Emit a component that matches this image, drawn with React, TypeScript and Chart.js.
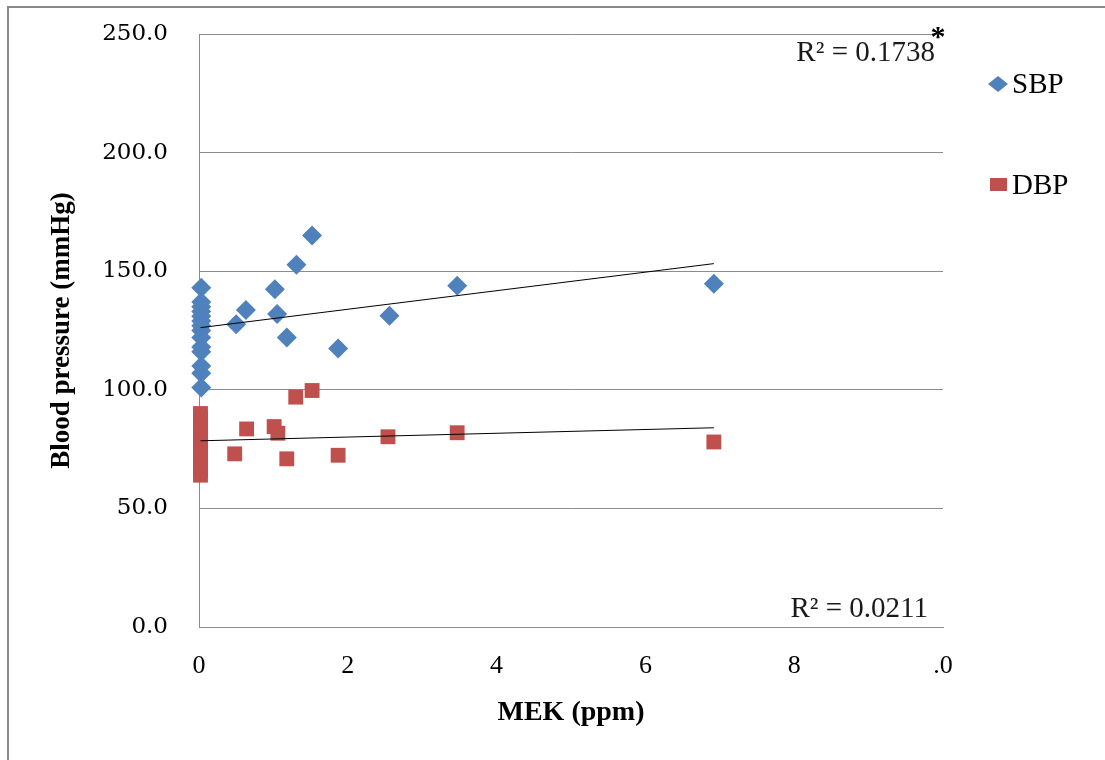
import React, { useEffect, useRef } from "react";
import { Chart, registerables } from "chart.js";

Chart.register(...registerables);

// SBP readings (mmHg) against MEK exposure (ppm)
const sbpMek = [
  0.03, 0.03, 0.03, 0.03, 0.03, 0.03, 0.03, 0.03, 0.03, 0.03, 0.03, 0.03, 0.03, 0.03,
  0.5, 0.63, 1.02, 1.05, 1.18, 1.31, 1.52, 1.87, 2.56, 3.47, 6.92,
];
const sbpValues = [
  143, 137, 135, 133, 131, 129, 127, 125, 122, 118, 116, 110, 107, 101,
  127.6, 133.6, 142.4, 132.0, 122.0, 152.7, 165.0, 117.4, 131.2, 143.9, 144.7,
];

// DBP readings (mmHg) against MEK exposure (ppm)
const dbpMek = [
  0.02, 0.02, 0.02, 0.02, 0.02, 0.02, 0.02, 0.02, 0.02, 0.02, 0.02, 0.02, 0.02, 0.02, 0.02, 0.02,
  0.48, 0.64, 1.01, 1.06, 1.18, 1.3, 1.52, 1.87, 2.54, 3.47, 6.92,
];
const dbpValues = [
  90, 88, 86, 85, 84, 82, 80, 78, 76, 75, 74, 72, 70, 68, 66, 64,
  73.0, 83.5, 84.5, 81.7, 70.9, 96.9, 99.7, 72.4, 80.2, 81.9, 78.0,
];

// Linear trend line end points
const sbpTrendX = [0.02, 6.92];
const sbpTrendY = [126.2, 153.2];
const dbpTrendX = [0.02, 6.92];
const dbpTrendY = [78.5, 84.0];

const xTickLabels = ["0", "2", "4", "6", "8", ".0"];
const seriesNames = ["SBP", "DBP"];
const r2Labels = ["R\u00B2 = 0.1738", "R\u00B2 = 0.0211"];

const SBP_COLOR = "#4F81BD";
const DBP_COLOR = "#C0504D";
const GRID = "#8c8c8c";

const toPoints = (xs: number[], ys: number[]) => xs.map((x, i) => ({ x, y: ys[i] }));

const decorPlugin = {
  id: "decor",
  afterDraw(chart: any) {
    const ctx = chart.ctx as CanvasRenderingContext2D;
    const { chartArea } = chart;
    ctx.save();
    // outer frame (left and top edges visible)
    ctx.strokeStyle = "#8a8a8a";
    ctx.lineWidth = 2;
    ctx.beginPath();
    ctx.moveTo(8, 760);
    ctx.lineTo(8, 7);
    ctx.lineTo(1105, 7);
    ctx.stroke();

    // R² labels
    ctx.fillStyle = "#1a1a1a";
    ctx.font = "29px 'Liberation Serif'";
    ctx.textAlign = "right";
    ctx.textBaseline = "middle";
    ctx.fillText(r2Labels[0], chartArea.right - 8, 53);
    ctx.fillText(r2Labels[1], chartArea.right - 15, 609);

    // asterisk
    ctx.font = "bold 30px 'Liberation Serif'";
    ctx.textAlign = "center";
    ctx.fillStyle = "#000";
    ctx.fillText("*", chartArea.right - 5, 38);

    // legend
    const lx = 998;
    ctx.fillStyle = SBP_COLOR;
    ctx.beginPath();
    ctx.moveTo(lx - 10, 84);
    ctx.lineTo(lx, 76);
    ctx.lineTo(lx + 10, 84);
    ctx.lineTo(lx, 92);
    ctx.closePath();
    ctx.fill();
    ctx.fillStyle = DBP_COLOR;
    ctx.fillRect(lx - 8, 178, 17, 13);

    ctx.fillStyle = "#000";
    ctx.font = "29px 'Liberation Serif'";
    ctx.textAlign = "left";
    ctx.textBaseline = "middle";
    ctx.fillText(seriesNames[0], 1012, 85);
    ctx.fillText(seriesNames[1], 1012, 186);
    ctx.restore();
  },
};

export default function App() {
  const canvasRef = useRef<HTMLCanvasElement | null>(null);

  useEffect(() => {
    if (!canvasRef.current) return;
    const chart = new Chart(canvasRef.current, {
      type: "scatter",
      data: {
        datasets: [
          {
            label: "SBP trend",
            data: toPoints(sbpTrendX, sbpTrendY),
            showLine: true,
            borderColor: "#000",
            borderWidth: 1,
            pointRadius: 0,
            order: 0,
            clip: false,
          },
          {
            label: "DBP trend",
            data: toPoints(dbpTrendX, dbpTrendY),
            showLine: true,
            borderColor: "#000",
            borderWidth: 1,
            pointRadius: 0,
            order: 0,
            clip: false,
          },
          {
            label: seriesNames[0],
            data: toPoints(sbpMek, sbpValues),
            pointStyle: "rectRot",
            pointRadius: 10,
            backgroundColor: SBP_COLOR,
            borderColor: SBP_COLOR,
            borderWidth: 0,
            order: 1,
            clip: false,
          },
          {
            label: seriesNames[1],
            data: toPoints(dbpMek, dbpValues),
            pointStyle: "rect",
            pointRadius: 10.5,
            backgroundColor: DBP_COLOR,
            borderColor: DBP_COLOR,
            borderWidth: 0,
            order: 1,
            clip: false,
          },
        ],
      },
      options: {
        animation: false,
        responsive: false,
        maintainAspectRatio: false,
        layout: { padding: { left: 0, right: 162, top: 34, bottom: 0 } },
        plugins: {
          legend: { display: false },
          tooltip: { enabled: false },
        },
        scales: {
          x: {
            type: "linear",
            min: 0,
            max: 10,
            ticks: {
              stepSize: 2,
              autoSkip: false,
              maxRotation: 0,
              padding: 24,
              color: "#000",
              font: { family: "'Liberation Serif'", size: 26 },
              callback: (_v: any, i: number) => xTickLabels[i],
            },
            grid: { display: false, drawTicks: false },
            border: { display: true, color: GRID, width: 1 },
            title: {
              display: true,
              text: "MEK (ppm)",
              color: "#000",
              font: { family: "'Liberation Serif'", size: 28, weight: "bold" },
              padding: { top: 0, bottom: 30 },
            },
            afterFit: (s: any) => {
              s.height = 133;
              s.paddingLeft = 0;
              s.paddingRight = 0;
            },
          },
          y: {
            type: "linear",
            min: 0,
            max: 250,
            ticks: {
              stepSize: 50,
              padding: 31,
              color: "#000",
              font: { family: "'DejaVu Serif'", size: 23 },
              callback: (v: any) => Number(v).toFixed(1),
            },
            grid: { color: GRID, lineWidth: 1, drawTicks: false },
            border: { display: true, color: GRID, width: 1 },
            title: {
              display: true,
              text: "Blood pressure (mmHg)",
              color: "#000",
              font: { family: "'Liberation Serif'", size: 27, weight: "bold" },
              padding: { top: 46, bottom: 0 },
            },
            afterFit: (s: any) => {
              s.width = 199;
              s.paddingTop = 0;
              s.paddingBottom = 0;
            },
          },
        },
      } as any,
      plugins: [decorPlugin],
    });
    return () => chart.destroy();
  }, []);

  return (
    <div style={{ position: "fixed", left: 0, top: 0, width: 1105, height: 760, background: "#fff" }}>
      <canvas ref={canvasRef} width={1105} height={760} style={{ display: "block" }} />
    </div>
  );
}
